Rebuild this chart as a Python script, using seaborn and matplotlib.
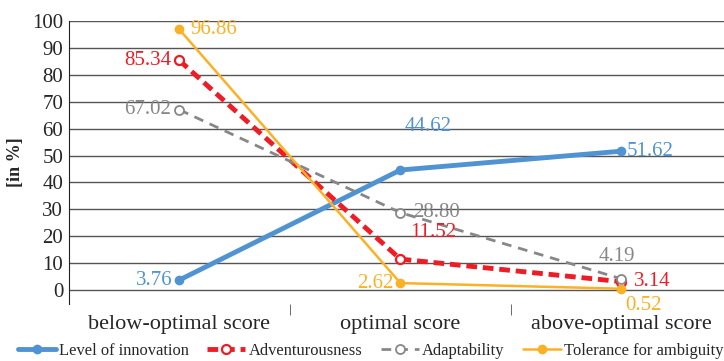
import pandas as pd
import matplotlib.pyplot as plt
import seaborn as sns

# Datos
categorias = ['below-optimal score', 'optimal score', 'above-optimal score']
innovacion = [3.76, 44.62, 51.62]
aventura = [85.34, 11.52, 3.14]
adaptabilidad = [67.02, 28.80, 4.19]
tolerancia = [96.86, 2.62, 0.52]
series = ['Level of innovation', 'Adventurousness', 'Adaptability', 'Tolerance for ambiguity']

df = pd.DataFrame({
    'cat': categorias * 4,
    'valor': innovacion + aventura + adaptabilidad + tolerancia,
    'serie': [s for s in series for _ in categorias],
})

sns.set_style('white')
plt.rcParams['font.family'] = ['Liberation Serif', 'DejaVu Serif']

colores = {'Level of innovation': '#4F93D2', 'Adventurousness': '#EE1C25',
           'Adaptability': '#878787', 'Tolerance for ambiguity': '#FBB125'}
estilos = {
    'Level of innovation': dict(lw=3.5, ls='-', ms=7, mfc=colores['Level of innovation']),
    'Adventurousness': dict(lw=3.5, ls=(0, (2.2, 1.2)), ms=6.5, mfc='white', mew=1.6),
    'Adaptability': dict(lw=2, ls=(0, (3.5, 2.5)), ms=6.5, mfc='white', mew=1.3),
    'Tolerance for ambiguity': dict(lw=1.8, ls='-', ms=7, mfc=colores['Tolerance for ambiguity']),
}

fig = plt.figure(figsize=(7.24, 3.61), dpi=100)
ax = fig.add_axes([0.095, 0.159, 0.916, 0.783])

ax.set_yticks(range(0, 101, 10))
ax.grid(axis='y', color='#555555', lw=1)
ax.set_axisbelow(True)

for s in series:
    d = df[df['serie'] == s]
    st = estilos[s]
    sns.lineplot(data=d, x='cat', y='valor', ax=ax, color=colores[s], label=s,
                 linewidth=st['lw'], marker='o',
                 markersize=st['ms'], markerfacecolor=st['mfc'],
                 markeredgecolor=colores[s], markeredgewidth=st.get('mew', 0),
                 sort=False)
    ax.lines[-1].set_linestyle(st['ls'])

# Etiquetas de valores: (offset x, offset y, ha)
offsets = {
    'Level of innovation': [(-5, 0, 'right'), (3, 31, 'left'), (4, 0, 'left')],
    'Adventurousness': [(-6, 0, 'right'), (7, 19, 'left'), (9, 0, 'left')],
    'Adaptability': [(-6, 0, 'right'), (9, 0, 'left'), (-3, 16, 'center')],
    'Tolerance for ambiguity': [(8, 0, 'left'), (-5, 0, 'right'), (3, -12, 'left')],
}
vals = {'Level of innovation': innovacion, 'Adventurousness': aventura,
        'Adaptability': adaptabilidad, 'Tolerance for ambiguity': tolerancia}
for s in series:
    for i, v in enumerate(vals[s]):
        dx, dy, ha = offsets[s][i]
        ax.annotate('{:.2f}'.format(v), xy=(i, v), xytext=(dx, dy), textcoords='offset points',
                    ha=ha, va='center', color=colores[s], fontsize=15)

ax.set_xlim(-0.5, 2.5)
ax.set_ylim(-5, 100)
ax.set_xlabel('')
ax.set_ylabel('[in %]', fontsize=13, fontweight='bold', labelpad=6)
ax.tick_params(axis='both', labelsize=15, length=0, pad=4)
ax.set_xticks([0.5, 1.5], minor=True)
ax.tick_params(axis='x', which='minor', length=8, color='#555555', direction='out', bottom=True)
ax.tick_params(axis='x', which='major', pad=8, labelsize=16)

for lado in ['top', 'right']:
    ax.spines[lado].set_visible(False)
ax.spines['bottom'].set_visible(False)
ax.spines['left'].set_color('#222222')

ax.legend(loc='center', bbox_to_anchor=(0.512, 0.027), bbox_transform=fig.transFigure, ncol=4,
          frameon=False, fontsize=11.9, handlelength=2.3, handletextpad=0.2, columnspacing=1.1,
          borderpad=0, borderaxespad=0)

fig.savefig('out.png', dpi=100)
